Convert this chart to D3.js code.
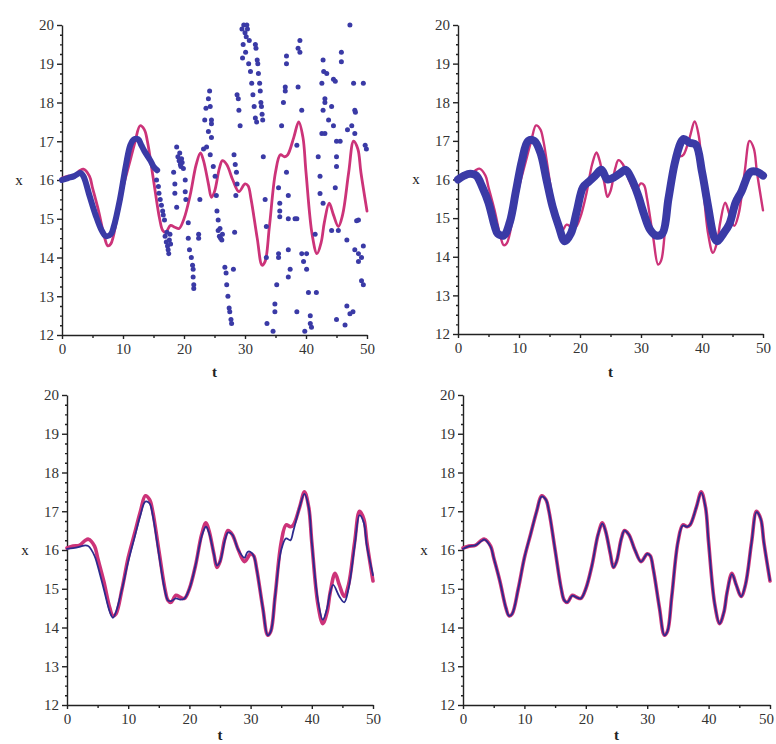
<!DOCTYPE html>
<html>
<head>
<meta charset="utf-8">
<script src="https://cdn.jsdelivr.net/npm/d3@7"></script>
<style>
    body { margin: 0; background: #fff; }
    svg { display: block; }
    .axis path, .axis line { stroke: #222; stroke-width: 1.4; }
    .axis text { font-family: "Liberation Serif", "Times New Roman", serif; font-size: 15px; fill: #333; }
    .lbl { font-family: "Liberation Serif", "Times New Roman", serif; font-size: 15px; fill: #222; }
</style>
</head>
<body>
<div id="vis"></div>
<script>
// tick values
var tTicks = [0, 10, 20, 30, 40, 50];
var xTicks = [12, 13, 14, 15, 16, 17, 18, 19, 20];

// exact solution (magenta), drawn in all four plots
var exactT = [0, 1, 2, 3, 3.5, 4.5, 5, 6, 7, 7.5, 8, 9, 10, 11, 12, 12.8, 13.5, 14, 15, 16,
    16.5, 17, 17.8, 18.5, 19.2, 20, 21, 22, 22.7, 23.2, 24, 24.5, 25, 25.8, 26.3, 27, 28, 29, 30, 30.5,
    31, 32, 32.8, 33.3, 34, 35, 35.8, 36.5, 37, 38, 38.8, 39.5, 40, 41, 41.8, 42.5, 43, 43.8, 44.5, 45.3,
    46, 47, 47.8, 48.5, 49, 50];
var exactX = [16.05, 16.1, 16.12, 16.25, 16.28, 16.1, 15.8, 15.2, 14.5, 14.3, 14.35, 15.0, 15.8, 16.4, 17.0, 17.4, 17.3, 17.0, 16.0, 15.0,
    14.7, 14.65, 14.83, 14.78, 14.75, 15.0, 15.6, 16.4, 16.7, 16.5, 15.9, 15.55, 15.7, 16.3, 16.5, 16.4, 16.0, 15.7, 15.9, 15.85,
    15.5, 14.5, 13.8, 13.9, 14.8, 16.2, 16.65, 16.6, 16.65, 17.1, 17.5, 17.1, 16.2, 14.6, 14.1, 14.4, 14.9, 15.4, 15.1, 14.8,
    15.1, 16.2, 17.0, 16.8, 16.2, 15.2];

// plot 1: dense run of points at the start
var p1T = [0, 1, 2, 3, 3.5, 4.5, 5.5, 6.5, 7.2, 8, 8.5, 9.5, 10.5, 11.2, 11.8, 12.5, 13, 13.5, 14.5, 15, 15.6];
var p1X = [16.0, 16.05, 16.1, 16.18, 16.1, 15.6, 15.1, 14.7, 14.55, 14.6, 14.8, 15.5, 16.4, 16.9, 17.05, 17.05, 16.9, 16.75, 16.5, 16.35, 16.25];

// plot 1: scattered points after t ~ 15 [t, x]
var p1Dots = [
    [15.5,16.0],[15.8,15.83],[15.9,15.66],[16.1,15.5],[16.3,15.35],[16.5,15.2],[16.6,15.1],[16.8,14.97],
    [16.9,14.55],[17.1,14.4],[17.3,14.3],[17.4,14.2],[17.6,14.45],[17.5,14.1],[17.2,14.65],[17.8,14.35],[17.7,14.6],
    [18.3,16.2],[18.5,15.9],[18.5,15.66],[18.8,15.3],
    [18.8,16.85],[19.0,16.6],[19.2,16.5],[19.4,16.4],[19.6,16.55],[19.3,16.7],[19.9,16.3],[19.7,16.45],[19.5,16.35],
    [20.2,16.0],[20.2,15.7],[20.3,15.5],
    [20.7,14.9],[20.7,14.5],[20.9,14.2],[21.2,14.0],[21.4,13.8],[21.5,13.7],[21.5,13.5],[21.6,13.3],[21.6,13.2],
    [22.4,14.6],[22.4,14.5],[22.6,15.5],
    [23.2,16.8],[23.4,17.55],[23.6,17.85],[24.2,18.3],[24.0,18.1],[24.3,17.9],[24.5,17.55],[24.5,17.45],[24.0,17.25],[24.5,17.1],[23.7,16.85],[24.3,16.65],
    [24.8,16.35],[25.1,16.1],[25.3,15.6],[25.4,15.2],[25.6,14.97],
    [25.6,14.7],[25.8,14.55],[26.0,14.5],[26.2,14.45],[25.9,14.75],[26.3,14.6],
    [26.7,13.75],[26.9,13.6],[27.0,13.3],[27.2,13.0],[27.4,12.7],[27.5,12.6],[27.7,12.4],[27.8,12.3],[28.1,13.7],
    [28.2,16.65],[28.4,16.4],[28.6,16.2],[28.7,15.9],[28.5,15.6],[28.3,14.65],
    [28.7,18.2],[28.9,18.1],[29.0,17.8],[29.2,17.4],
    [29.5,19.9],[29.8,20.0],[30.0,19.8],[30.2,19.7],[30.4,19.9],[29.7,19.5],[30.1,19.3],[30.6,19.0],[29.6,19.15],[30.3,20.0],[30.7,19.6],
    [30.9,18.8],[31.1,18.5],[31.3,18.2],[31.5,17.9],[31.7,17.6],[31.9,17.5],
    [31.7,19.5],[31.8,19.4],[32.0,19.1],[32.1,19.0],[32.2,18.75],[32.4,18.5],[32.5,18.3],[32.6,18.0],[32.7,17.9],[32.8,17.7],[32.9,17.55],
    [33.0,16.6],[33.3,15.5],[33.5,14.8],[33.5,14.0],[33.6,12.3],
    [34.9,12.8],[34.9,12.6],[34.6,12.1],[35.2,13.3],[35.5,14.1],[35.5,14.0],[35.5,15.8],[35.7,15.4],[35.7,15.2],[35.7,15.05],
    [36.0,17.4],[36.8,19.2],[36.8,19.0],[36.6,18.4],[36.6,18.3],[36.3,18.0],[36.8,16.2],[37.1,15.6],[37.1,15.0],[37.1,14.2],[37.4,13.7],[37.1,13.5],
    [38.2,15.0],[38.5,15.0],[38.5,12.6],[38.7,19.4],[39.0,19.6],[39.0,19.3],[38.7,18.4],[39.3,17.8],[38.5,16.9],
    [39.3,14.1],[39.6,13.9],[40.1,13.7],[40.4,13.1],[41.7,13.1],[40.7,12.5],[40.7,12.3],[40.9,12.2],[39.8,12.1],
    [42.0,16.6],[42.3,16.1],[42.3,15.65],[42.8,15.4],[42.6,17.2],[43.1,17.2],[42.8,19.1],[42.9,18.8],[43.4,18.75],[44.5,18.6],[44.8,18.55],
    [42.6,18.5],[43.1,18.1],[43.1,18.0],[42.8,17.8],[43.7,17.55],[44.5,17.4],[44.2,17.9],
    [45.0,17.0],[45.6,17.0],[45.0,16.6],[45.0,16.35],[44.8,15.8],[44.2,14.7],[45.3,14.7],[46.7,14.45],[46.8,17.3],
    [47.2,20.0],[45.8,19.3],[45.8,19.05],[47.8,18.5],[49.4,18.5],[48.0,17.8],[48.1,17.75],[47.5,17.4],[48.0,17.2],[49.7,16.9],[49.9,16.8],
    [48.6,14.97],[48.3,14.95],[48.0,14.2],[48.6,14.1],[49.1,14.0],[49.1,13.4],[49.4,13.3],[49.4,14.3],
    [46.7,12.75],[47.2,12.55],[47.7,12.6],[46.4,12.26],[45.0,12.4],[48.6,13.9],[41.5,14.6],[40.1,14.1]
];

// plot 2: damped approximation (thick blue)
var p2T = [0, 1, 2, 3, 4, 5, 6, 6.5, 7.5, 8.5, 9.5, 10.5, 11.5, 12.5, 13.5, 14.5, 15.5, 16.5, 17.5, 18.5,
    19.5, 20.5, 21.5, 22.5, 23.5, 24.5, 25.5, 26.5, 27.5, 28.5, 29.5, 30.5, 31.5, 32.5, 33.5, 34.5, 35.5, 36.5, 37, 38,
    39, 40, 41, 42, 42.5, 43.5, 44.5, 45.5, 46.5, 47.5, 48, 49, 50];
var p2X = [16.0, 16.1, 16.15, 16.1, 15.8, 15.4, 14.8, 14.6, 14.55, 14.9, 15.7, 16.5, 17.0, 17.0, 16.7, 16.0, 15.3, 14.8, 14.4, 14.6,
    15.2, 15.8, 15.95, 16.1, 16.25, 16.0, 16.05, 16.15, 16.25, 16.0, 15.6, 15.1, 14.7, 14.55, 14.6, 15.5, 16.4, 16.95, 17.05, 16.95,
    16.9, 16.2, 15.3, 14.5, 14.4, 14.6, 14.85, 15.4, 15.7, 16.1, 16.2, 16.2, 16.1];

// plot 3: close approximation (thin blue)
var p3T = [0, 1, 2, 3, 3.5, 4.5, 5, 6, 7, 7.5, 8, 9, 10, 11, 12, 12.8, 13.5, 14, 15, 16,
    16.5, 17, 17.8, 18.5, 19.2, 20, 21, 22, 22.7, 23.2, 24, 24.5, 25, 25.8, 26.3, 27, 28, 29, 29.5, 30,
    30.5, 31, 32, 32.8, 33.3, 34, 35, 35.8, 36.5, 37, 38, 38.8, 39.5, 40, 41, 41.8, 42.5, 43, 43.5, 44.5,
    45.3, 46, 47, 47.8, 48.5, 49, 50];
var p3X = [16.03, 16.05, 16.08, 16.12, 16.1, 15.85, 15.6, 15.0, 14.4, 14.25, 14.4, 15.0, 15.7, 16.3, 16.9, 17.25, 17.2, 16.9, 15.9, 14.95,
    14.7, 14.68, 14.75, 14.72, 14.75, 15.0, 15.6, 16.35, 16.6, 16.45, 15.9, 15.6, 15.7, 16.25, 16.45, 16.4, 16.0, 15.8, 15.95, 15.95,
    15.85, 15.5, 14.5, 13.8, 13.9, 14.8, 16.0, 16.3, 16.25, 16.5, 17.1, 17.45, 17.1, 16.2, 14.7, 14.2, 14.5, 14.9, 15.1, 14.8,
    14.65, 15.0, 16.1, 16.9, 16.7, 16.1, 15.35];

// plot 4: blue on top of the exact solution (same t as exactT)
var p4X = [16.03, 16.1, 16.12, 16.23, 16.27, 16.08, 15.8, 15.2, 14.5, 14.3, 14.35, 15.0, 15.8, 16.4, 17.0, 17.38, 17.3, 17.0, 16.0, 15.0,
    14.7, 14.65, 14.82, 14.78, 14.75, 15.0, 15.6, 16.4, 16.68, 16.5, 15.9, 15.55, 15.7, 16.3, 16.5, 16.4, 16.0, 15.7, 15.9, 15.85,
    15.5, 14.5, 13.8, 13.9, 14.8, 16.2, 16.63, 16.6, 16.65, 17.1, 17.48, 17.1, 16.2, 14.6, 14.1, 14.4, 14.9, 15.38, 15.1, 14.8,
    15.1, 16.2, 16.98, 16.8, 16.2, 15.22];

var magenta = "#cc3379",
    dotBlue = "#3a3aa6",
    lineBlue = "#2c2a8e";

function zip(ts, xs) {
    return ts.map(function(t, i) { return {t: t, x: xs[i]}; });
}

var svg = d3.select("#vis").append("svg")
    .attr("width", 776)
    .attr("height", 744);

// one panel = axes + list of layers
function drawPanel(p) {
    var x = d3.scaleLinear().domain([0, 50]).range([p.left, p.right]);
    var y = d3.scaleLinear().domain([12, 20]).range([p.bottom, p.top]);
    var g = svg.append("g");

    var line = d3.line()
        .curve(d3.curveCatmullRom.alpha(0.5))
        .x(function(d) { return x(d.t); })
        .y(function(d) { return y(d.x); });

    // minor ticks
    g.append("g")
        .attr("class", "axis")
        .attr("transform", "translate(0," + p.bottom + ")")
        .call(d3.axisBottom(x).tickValues([5, 15, 25, 35, 45]).tickSize(3).tickSizeOuter(0).tickFormat(""))
        .select(".domain").remove();
    g.append("g")
        .attr("class", "axis")
        .attr("transform", "translate(" + p.left + ",0)")
        .call(d3.axisLeft(y).tickValues(d3.range(12.25, 20, 0.25).filter(function(v) { return v % 1 !== 0; }))
            .tickSize(2).tickSizeOuter(0).tickFormat(""))
        .select(".domain").remove();

    var xAxis = g.append("g")
        .attr("class", "axis")
        .attr("transform", "translate(0," + p.bottom + ")")
        .call(d3.axisBottom(x).tickValues(tTicks).tickSize(4).tickSizeOuter(0).tickPadding(4));
    // keep the last label inside the page when the axis ends at the edge
    if (p.right > 765) {
        xAxis.selectAll(".tick text")
            .filter(function(d) { return d === 50; })
            .attr("dx", -(p.right - 766));
    }
    g.append("g")
        .attr("class", "axis")
        .attr("transform", "translate(" + p.left + ",0)")
        .call(d3.axisLeft(y).tickValues(xTicks).tickSize(5).tickSizeOuter(0).tickPadding(3));

    g.append("text")
        .attr("class", "lbl")
        .attr("x", (p.left + p.right) / 2)
        .attr("y", p.tLabelY)
        .attr("text-anchor", "middle")
        .style("font-weight", "bold")
        .text("t");
    g.append("text")
        .attr("class", "lbl")
        .attr("x", p.xLabelX)
        .attr("y", y(16))
        .attr("dy", "0.32em")
        .attr("text-anchor", "middle")
        .text("x");

    p.layers.forEach(function(l) {
        if (l.type === "line") {
            g.append("path")
                .datum(l.data)
                .attr("fill", "none")
                .attr("stroke", l.color)
                .attr("stroke-width", l.width)
                .attr("stroke-linejoin", "round")
                .attr("stroke-linecap", "round")
                .attr("d", line);
        } else {
            g.selectAll(null)
                .data(l.data)
                .enter().append("circle")
                .attr("cx", function(d) { return x(d[0]); })
                .attr("cy", function(d) { return y(d[1]); })
                .attr("r", 2.5)
                .attr("fill", l.color);
        }
    });
}

var exact = zip(exactT, exactX);

drawPanel({
    left: 62, right: 367, top: 25, bottom: 335, tLabelY: 377, xLabelX: 19,
    layers: [
        {type: "line", data: exact, color: magenta, width: 2.8},
        {type: "line", data: zip(p1T, p1X), color: dotBlue, width: 6},
        {type: "dots", data: p1Dots, color: dotBlue}
    ]
});
drawPanel({
    left: 458, right: 763, top: 25, bottom: 334, tLabelY: 377, xLabelX: 416,
    layers: [
        {type: "line", data: exact, color: magenta, width: 2.4},
        {type: "line", data: zip(p2T, p2X), color: dotBlue, width: 8}
    ]
});
drawPanel({
    left: 67, right: 373, top: 395, bottom: 705, tLabelY: 740, xLabelX: 25,
    layers: [
        {type: "line", data: exact, color: magenta, width: 3.6},
        {type: "line", data: zip(p3T, p3X), color: lineBlue, width: 1.8}
    ]
});
drawPanel({
    left: 463, right: 770, top: 395, bottom: 705, tLabelY: 740, xLabelX: 424,
    layers: [
        {type: "line", data: exact, color: magenta, width: 3.6},
        {type: "line", data: zip(exactT, p4X), color: lineBlue, width: 1.8}
    ]
});
</script>
</body>
</html>
